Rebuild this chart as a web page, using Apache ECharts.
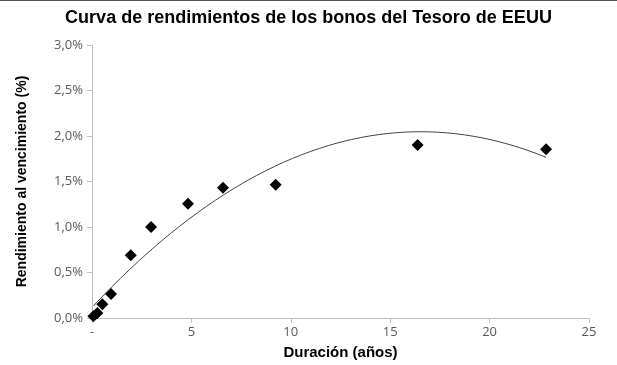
<!DOCTYPE html>
<html><head><meta charset="utf-8">
<script src="https://cdn.jsdelivr.net/npm/echarts@6/dist/echarts.min.js"></script>
<style>html,body{margin:0;padding:0;background:#fff}#c{width:617px;height:365px;border-top:1px solid #555;box-sizing:border-box}</style>
</head><body><div id="c"></div>
<script>
const durations = [0.07, 0.27, 0.52, 0.96, 1.95, 2.97, 4.83, 6.59, 9.24, 16.38, 22.84];
const yields = [0.02, 0.055, 0.15, 0.265, 0.69, 1.00, 1.255, 1.43, 1.465, 1.90, 1.855];
const xTicks = [0, 5, 10, 15, 20, 25];

// Order-2 polynomial trendline (least squares) from the data
function polyFit(xs, ys) {
  let n = xs.length, s = [0,0,0,0,0], t = [0,0,0];
  for (let i = 0; i < n; i++) {
    let p = 1;
    for (let k = 0; k < 5; k++) { s[k] += p; if (k < 3) t[k] += p * ys[i]; p *= xs[i]; }
  }
  const A = [[s[0],s[1],s[2],t[0]],[s[1],s[2],s[3],t[1]],[s[2],s[3],s[4],t[2]]];
  for (let i = 0; i < 3; i++) {
    for (let j = i + 1; j < 3; j++) {
      const f = A[j][i] / A[i][i];
      for (let k = i; k < 4; k++) A[j][k] -= f * A[i][k];
    }
  }
  const c = [0,0,0];
  for (let i = 2; i >= 0; i--) {
    let v = A[i][3];
    for (let k = i + 1; k < 3; k++) v -= A[i][k] * c[k];
    c[i] = v / A[i][i];
  }
  return c;
}
const coef = polyFit(durations, yields);
const xmin = Math.min(...durations), xmax = Math.max(...durations);
const trend = [];
for (let i = 0; i <= 100; i++) {
  const x = xmin + (xmax - xmin) * i / 100;
  trend.push([x, coef[0] + coef[1] * x + coef[2] * x * x]);
}

const chart = echarts.init(document.getElementById('c'));
const labelFont = '"Open Sans", "Noto Sans", sans-serif';
chart.setOption({
  animation: false,
  title: {
    text: 'Curva de rendimientos de los bonos del Tesoro de EEUU',
    left: 'center', top: 3,
    textStyle: { fontFamily: '"Liberation Sans", Arial, sans-serif', fontSize: 18, fontWeight: 'bold', color: '#000' }
  },
  grid: { left: 92, right: 28, top: 44, bottom: 45 },
  xAxis: {
    type: 'value', min: 0, max: 25, interval: 5,
    name: 'Duración (años)', nameLocation: 'middle', nameGap: 27,
    nameTextStyle: { fontFamily: '"Liberation Sans", Arial, sans-serif', fontSize: 15, fontWeight: 'bold', color: '#000' },
    axisLine: { lineStyle: { color: '#bfbfbf' } },
    axisTick: { show: true, length: 5, lineStyle: { color: '#bfbfbf' } },
    splitLine: { show: false },
    axisLabel: { fontFamily: labelFont, fontSize: 13, color: '#595959', margin: 8,
      formatter: v => (v === 0 ? '-' : String(v)) }
  },
  yAxis: {
    type: 'value', min: 0, max: 3, interval: 0.5,
    name: 'Rendimiento al vencimiento (%)', nameLocation: 'middle', nameGap: 63,
    nameTextStyle: { fontFamily: '"Liberation Sans", Arial, sans-serif', fontSize: 14, fontWeight: 'bold', color: '#000' },
    axisLine: { show: true, lineStyle: { color: '#bfbfbf' } },
    axisTick: { show: true, length: 5, lineStyle: { color: '#bfbfbf' } },
    splitLine: { show: false },
    axisLabel: { fontFamily: labelFont, fontSize: 13, color: '#595959', margin: 9,
      formatter: v => v.toFixed(1).replace('.', ',') + '%' }
  },
  series: [
    { type: 'line', data: trend, showSymbol: false, smooth: false,
      lineStyle: { color: '#404040', width: 1 }, z: 1 },
    { type: 'scatter', data: durations.map((d, i) => [d, yields[i]]),
      symbol: 'diamond', symbolSize: 12, itemStyle: { color: '#000', opacity: 1 }, z: 2 }
  ]
});
</script></body></html>
